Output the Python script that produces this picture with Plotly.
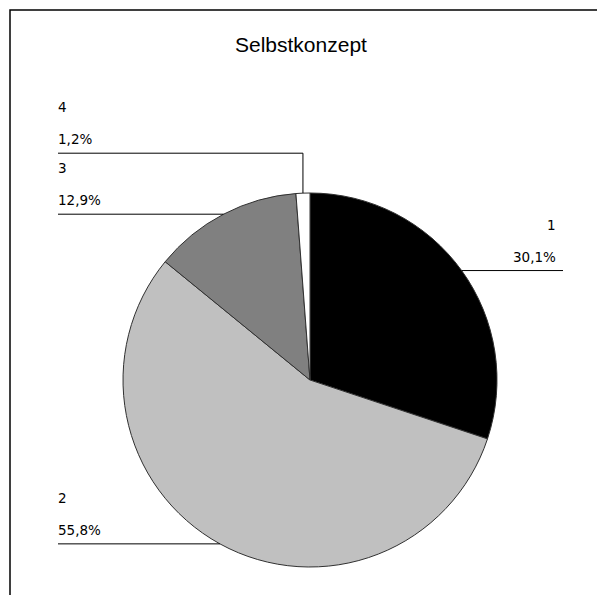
import math
import plotly.graph_objects as go

# Selbstkonzept: share of respondents per category
categories = ["1", "2", "3", "4"]
shares = [30.1, 55.8, 12.9, 1.2]
slice_colors = ["#000000", "#c0c0c0", "#808080", "#ffffff"]

W, H = 597, 595
CX, CY, R = 310, 380, 187  # pie centre and radius in pixels

def px(x):
    return x / W

def py(y):
    return 1 - y / H

fig = go.Figure(go.Pie(
    labels=categories,
    values=shares,
    sort=False,
    direction="clockwise",
    rotation=0,
    textinfo="none",
    hoverinfo="label+percent",
    marker=dict(colors=slice_colors, line=dict(color="#303030", width=1)),
    domain=dict(x=[px(CX - R), px(CX + R)], y=[py(CY + R), py(CY - R)]),
    showlegend=False,
))

shapes = []
annotations = []
total = sum(shares)
start = 0.0
prev_left_y = None
font = dict(family="DejaVu Sans, Verdana, sans-serif", size=13.5, color="#000000")
for name, v in zip(categories, shares):
    span = v / total * 360
    mid = math.radians(start + span / 2)
    start += span
    ex = CX + R * math.sin(mid)
    ey = CY - R * math.cos(mid)
    pct = f"{v:.1f}".replace(".", ",") + "%"
    if ex >= CX:
        # label on the right side
        lx = 563
        shapes.append(dict(type="line", xref="paper", yref="paper",
                           x0=px(ex), y0=py(ey), x1=px(lx), y1=py(ey),
                           line=dict(color="#000000", width=1)))
        tx, anchor, ly = 558, "right", ey
    else:
        lx = 58
        ly = ey
        if prev_left_y is not None and ly > prev_left_y - 61:
            # move crowded label up and bend the leader line
            ly = prev_left_y - 61
            shapes.append(dict(type="line", xref="paper", yref="paper",
                               x0=px(ex), y0=py(ey), x1=px(ex), y1=py(ly),
                               line=dict(color="#000000", width=1)))
            shapes.append(dict(type="line", xref="paper", yref="paper",
                               x0=px(ex), y0=py(ly), x1=px(lx), y1=py(ly),
                               line=dict(color="#000000", width=1)))
        else:
            shapes.append(dict(type="line", xref="paper", yref="paper",
                               x0=px(ex), y0=py(ey), x1=px(lx), y1=py(ey),
                               line=dict(color="#000000", width=1)))
        prev_left_y = ly
        tx, anchor = 56, "left"
    annotations.append(dict(x=px(tx), y=py(ly - 14), xref="paper", yref="paper",
                            text=pct, showarrow=False, xanchor=anchor,
                            yanchor="middle", font=font))
    annotations.append(dict(x=px(tx), y=py(ly - 46), xref="paper", yref="paper",
                            text=name, showarrow=False, xanchor=anchor,
                            yanchor="middle", font=font))

# outer chart frame
shapes.append(dict(type="rect", xref="paper", yref="paper",
                   x0=px(10), y0=-0.1, x1=1.1, y1=py(10),
                   line=dict(color="#000000", width=1.5)))

annotations.append(dict(x=px(301), y=py(45), xref="paper", yref="paper",
                        text="Selbstkonzept", showarrow=False,
                        xanchor="center", yanchor="middle",
                        font=dict(family="Liberation Sans, Arial, sans-serif",
                                  size=21, color="#000000")))

fig.update_layout(
    width=W, height=H,
    margin=dict(l=0, r=0, t=0, b=0),
    paper_bgcolor="#ffffff",
    plot_bgcolor="#ffffff",
    shapes=shapes,
    annotations=annotations,
)

fig.write_html("out.html")
